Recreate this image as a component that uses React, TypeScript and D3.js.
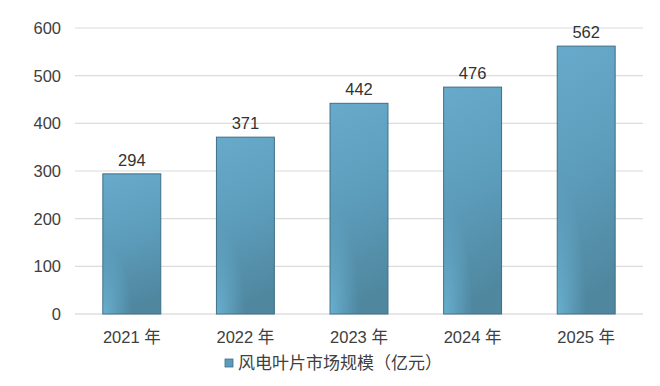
import React, { useEffect, useRef } from 'react';
import * as d3 from 'd3';

const years = ['2021 年', '2022 年', '2023 年', '2024 年', '2025 年'];
const marketSize = [294, 371, 442, 476, 562];
const yTicks = [0, 100, 200, 300, 400, 500, 600];
const seriesName = '风电叶片市场规模（亿元）';

const FONT = '"Liberation Sans", Arial, "Noto Sans CJK SC", sans-serif';
const CJK = '"Noto Sans CJK SC", "Liberation Sans", sans-serif';

const App: React.FC = () => {
  const svgRef = useRef<SVGSVGElement>(null);

  useEffect(() => {
    if (!svgRef.current) {
      return;
    }
    const width = 660;
    const height = 386;
    const svg = d3.select(svgRef.current);
    svg.selectAll('*').remove();
    svg.attr('width', width).attr('height', height).attr('viewBox', `0 0 ${width} ${height}`);

    const left = 75;
    const right = 643;
    const top = 28;
    const bottom = 314;

    const x = d3.scaleBand<string>().domain(years).range([left, right]).paddingInner(0.49).paddingOuter(0.245);
    const y = d3.scaleLinear().domain([0, 600]).range([bottom, top]);

    const defs = svg.append('defs');
    const lin = defs
      .append('linearGradient')
      .attr('id', 'barGrad')
      .attr('x1', 0)
      .attr('y1', 0)
      .attr('x2', 0.15)
      .attr('y2', 1);
    lin.append('stop').attr('offset', '0%').attr('stop-color', '#68aacb');
    lin.append('stop').attr('offset', '50%').attr('stop-color', '#5d9dbc');
    lin.append('stop').attr('offset', '100%').attr('stop-color', '#4f879f');

    const glow = defs
      .append('radialGradient')
      .attr('id', 'barGlow')
      .attr('cx', 0)
      .attr('cy', 1)
      .attr('r', 0.5);
    glow.append('stop').attr('offset', '0%').attr('stop-color', '#6ab2d3').attr('stop-opacity', 0.9);
    glow.append('stop').attr('offset', '100%').attr('stop-color', '#6ab2d3').attr('stop-opacity', 0);

    // grid
    svg
      .append('g')
      .selectAll('line')
      .data(yTicks)
      .enter()
      .append('line')
      .attr('x1', left)
      .attr('x2', right)
      .attr('y1', (d) => y(d))
      .attr('y2', (d) => y(d))
      .attr('stroke', (d) => (d === 0 ? '#cfcfcf' : '#dcdcdc'))
      .attr('stroke-width', 1.2);

    // y labels
    svg
      .append('g')
      .selectAll('text')
      .data(yTicks)
      .enter()
      .append('text')
      .attr('x', 61)
      .attr('y', (d) => y(d))
      .attr('dy', '0.36em')
      .attr('text-anchor', 'end')
      .attr('font-family', FONT)
      .attr('font-size', '16.5px')
      .attr('fill', '#404040')
      .text((d) => d);

    const bars = svg
      .append('g')
      .selectAll('g')
      .data(years.map((year, i) => ({ year, value: marketSize[i] })))
      .enter()
      .append('g');

    bars
      .append('rect')
      .attr('x', (d) => x(d.year)!)
      .attr('y', (d) => y(d.value))
      .attr('width', x.bandwidth())
      .attr('height', (d) => bottom - y(d.value))
      .attr('fill', 'url(#barGrad)')
      .attr('stroke', '#3f6f86')
      .attr('stroke-width', 1);

    bars
      .append('rect')
      .attr('x', (d) => x(d.year)! + 0.5)
      .attr('y', (d) => y(d.value) + 0.5)
      .attr('width', x.bandwidth() - 1)
      .attr('height', (d) => bottom - y(d.value) - 1)
      .attr('fill', 'url(#barGlow)');

    bars
      .append('text')
      .attr('x', (d) => x(d.year)! + x.bandwidth() / 2)
      .attr('y', (d) => y(d.value) - 8)
      .attr('text-anchor', 'middle')
      .attr('font-family', FONT)
      .attr('font-size', '16.5px')
      .attr('fill', '#333333')
      .text((d) => d.value);

    // x labels
    svg
      .append('g')
      .selectAll('text')
      .data(years)
      .enter()
      .append('text')
      .attr('x', (d) => x(d)! + x.bandwidth() / 2)
      .attr('y', 337)
      .attr('dy', '0.36em')
      .attr('text-anchor', 'middle')
      .attr('font-family', FONT)
      .attr('font-size', '16.5px')
      .attr('fill', '#404040')
      .text((d) => d);

    // legend
    const legend = svg.append('g').attr('transform', 'translate(225, 359)');
    legend
      .append('rect')
      .attr('width', 8)
      .attr('height', 8)
      .attr('fill', '#5c9cbb')
      .attr('stroke', '#3f6f86')
      .attr('stroke-width', 0.8);
    legend
      .append('text')
      .attr('x', 13)
      .attr('y', 4)
      .attr('dy', '0.36em')
      .attr('font-family', CJK)
      .attr('font-size', '17px')
      .attr('fill', '#404040')
      .text(seriesName);
  }, []);

  return (
    <div style={{ margin: -8 }}>
      <svg ref={svgRef} style={{ display: 'block' }} />
    </div>
  );
};

export default App;
